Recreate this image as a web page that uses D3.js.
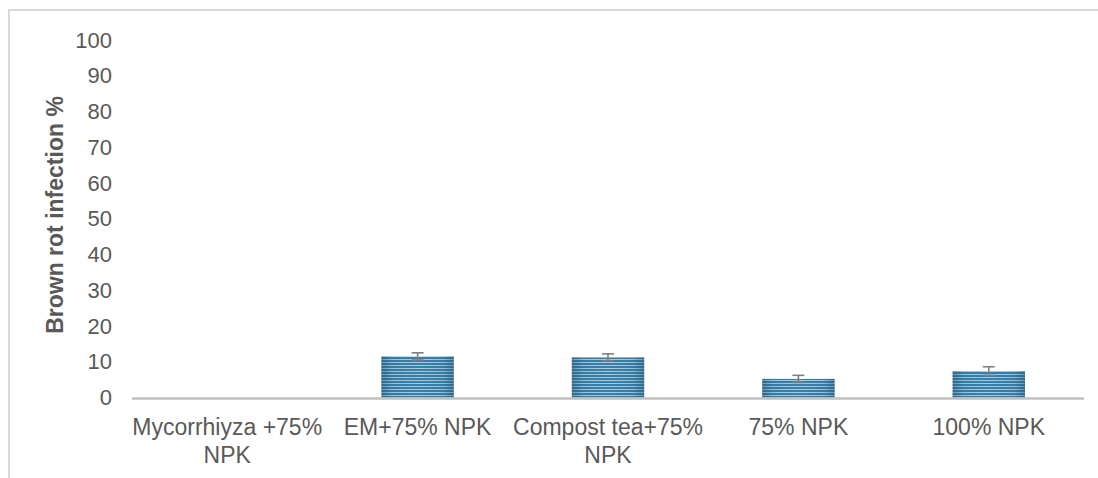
<!DOCTYPE html>
<html>
<head>
<meta charset="utf-8">
<script src="https://cdn.jsdelivr.net/npm/d3@7"></script>
<style>
  body { margin: 0; background: #fff; }
  svg { display: block; font-family: "Liberation Sans", Arial, sans-serif; }
</style>
</head>
<body>
<div id="chart"></div>
<script>
// chart data
let categories = ['Mycorrhiyza +75% NPK', 'EM+75% NPK', 'Compost tea+75% NPK', '75% NPK', '100% NPK'];
let infection = [0, 11.5, 11.2, 5.2, 7.4];
let errors = [0, 1.0, 1.0, 1.0, 1.2];
let yTicks = [0, 10, 20, 30, 40, 50, 60, 70, 80, 90, 100];

let width = 1098, height = 478;
let margin = {top: 40, left: 132, right: 14, bottom: 80.5};

let svg = d3.select('#chart').append('svg')
    .attr('width', width)
    .attr('height', height);

// frame (only top and left edges show)
svg.append('path')
    .attr('d', `M9,${height} V10 H${width}`)
    .attr('fill', 'none')
    .attr('stroke', '#d9d9d9')
    .attr('stroke-width', 2);

let defs = svg.append('defs');

// horizontal stripes for the bars
let pattern = defs.append('pattern')
    .attr('id', 'stripes')
    .attr('patternUnits', 'userSpaceOnUse')
    .attr('width', 8)
    .attr('height', 3);
pattern.append('rect').attr('width', 8).attr('height', 3).attr('fill', '#3b7fa8');
pattern.append('rect').attr('y', 2).attr('width', 8).attr('height', 1).attr('fill', '#a4cde2');

// darker at the left and right edges
let shade = defs.append('linearGradient')
    .attr('id', 'shade')
    .attr('x1', 0).attr('x2', 1).attr('y1', 0).attr('y2', 0);
[[0, 0.45], [0.15, 0.1], [0.5, 0], [0.85, 0.1], [1, 0.45]].forEach(s => {
    shade.append('stop')
        .attr('offset', s[0])
        .attr('stop-color', '#1d4f6b')
        .attr('stop-opacity', s[1]);
});

let x = d3.scaleBand()
    .domain(categories)
    .range([margin.left, width - margin.right])
    .paddingInner(0.62)
    .paddingOuter(0.31);

let y = d3.scaleLinear()
    .domain([0, 100])
    .range([height - margin.bottom, margin.top]);

// y tick labels
svg.append('g')
    .selectAll('text')
    .data(yTicks)
    .enter().append('text')
    .attr('x', 112)
    .attr('y', d => y(d))
    .attr('dy', '0.35em')
    .attr('text-anchor', 'end')
    .attr('fill', '#595959')
    .style('font-size', '22px')
    .text(d => d);

// y axis title
svg.append('text')
    .attr('transform', 'translate(55,215) rotate(-90)')
    .attr('dy', '0.36em')
    .attr('text-anchor', 'middle')
    .attr('fill', '#595959')
    .style('font-size', '23px')
    .style('font-weight', 'bold')
    .text('Brown rot infection %');

// bars
let bars = svg.append('g');
categories.forEach((c, i) => {
    if (infection[i] <= 0) return;
    let bx = x(c), by = y(infection[i]), bh = y(0) - y(infection[i]);
    bars.append('rect')
        .attr('x', bx).attr('y', by)
        .attr('width', x.bandwidth()).attr('height', bh)
        .attr('fill', 'url(#stripes)');
    bars.append('rect')
        .attr('x', bx).attr('y', by)
        .attr('width', x.bandwidth()).attr('height', bh)
        .attr('fill', 'url(#shade)');
});

// error bars
let err = svg.append('g')
    .attr('stroke', '#7f7f7f')
    .attr('stroke-width', 1.6);
categories.forEach((c, i) => {
    if (errors[i] <= 0) return;
    let cx = x(c) + x.bandwidth() / 2;
    let hi = y(infection[i] + errors[i]), lo = y(infection[i] - errors[i]);
    err.append('line').attr('x1', cx).attr('x2', cx).attr('y1', hi).attr('y2', lo);
    err.append('line').attr('x1', cx - 6).attr('x2', cx + 6).attr('y1', hi).attr('y2', hi);
    err.append('line').attr('x1', cx - 6).attr('x2', cx + 6).attr('y1', lo).attr('y2', lo);
});

// x axis line
svg.append('line')
    .attr('x1', margin.left).attr('x2', width - margin.right)
    .attr('y1', y(0) + 1).attr('y2', y(0) + 1)
    .attr('stroke', '#bfbfbf')
    .attr('stroke-width', 2.5);

// category labels, wrapped like the original
let wrapped = {
    'Mycorrhiyza +75% NPK': ['Mycorrhiyza +75%', 'NPK'],
    'Compost tea+75% NPK': ['Compost tea+75%', 'NPK']
};
let labels = svg.append('g')
    .attr('fill', '#595959')
    .style('font-size', '23px')
    .attr('text-anchor', 'middle');
categories.forEach(c => {
    let lines = wrapped[c] || [c];
    let t = labels.append('text')
        .attr('x', x(c) + x.bandwidth() / 2)
        .attr('y', 435);
    lines.forEach((l, j) => {
        t.append('tspan')
            .attr('x', x(c) + x.bandwidth() / 2)
            .attr('dy', j === 0 ? 0 : 28)
            .text(l);
    });
});
</script>
</body>
</html>
